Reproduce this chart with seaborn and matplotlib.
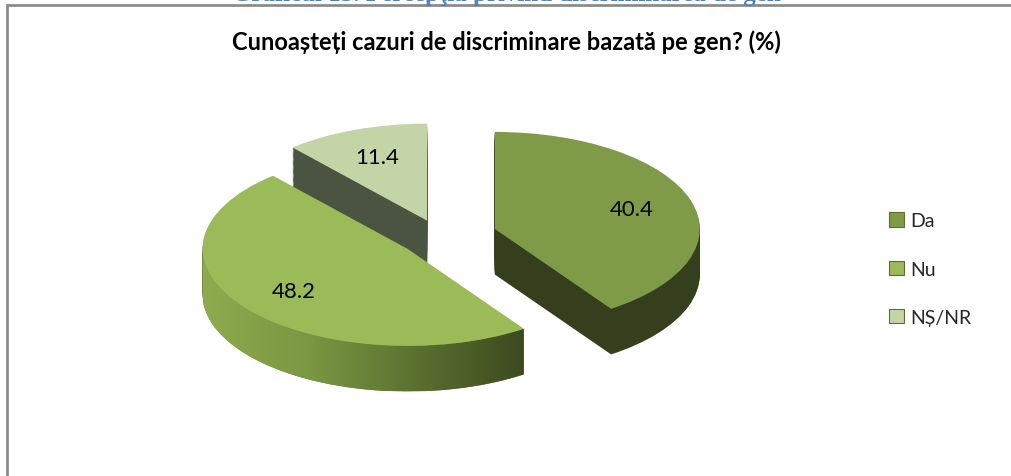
import numpy as np
import matplotlib
matplotlib.use("Agg")
import matplotlib.pyplot as plt
from matplotlib.patches import Patch, Rectangle, Polygon
from matplotlib.colors import LinearSegmentedColormap
import seaborn as sns

# data
labels = ["Da", "Nu", "NȘ/NR"]
values = [40.4, 48.2, 11.4]
top_colors = ["#7f9b48", "#9bbb59", "#c3d4a7"]
side_colors = ["#353f1d", "#6e8a3b", "#4b5440"]
explode = [0.28, 0.2, 0.18]

sns.set_theme(style="white")
plt.rcParams["font.family"] = ["Lato", "DejaVu Sans"]

fig = plt.figure(figsize=(10.12, 4.77), dpi=100, facecolor="white")
ax = fig.add_axes([0, 0, 1, 1])

# fake 3d: stack darker pies below the top face
depth = 0.47
for dy in np.linspace(-depth, 0, 40, endpoint=False):
    ax.pie(values, explode=explode, startangle=90, counterclock=False,
           colors=side_colors, center=(0, dy), wedgeprops=dict(linewidth=0))

wedges, texts, autotexts = ax.pie(values, explode=explode, startangle=90, counterclock=False,
                                  colors=top_colors, autopct="%.1f", pctdistance=0.7,
                                  wedgeprops=dict(linewidth=0),
                                  textprops=dict(fontsize=16, color="black"))
for w in wedges:
    w.set_zorder(3)
for t in autotexts:
    t.set_zorder(4)

# shaded front wall of the "Nu" slice (light on the left, dark on the right)
nu = wedges[1]
cx, cy = nu.center
t1, t2 = nu.theta1, nu.theta2
ang = np.radians(np.linspace(max(t1, -180), t2, 120))
top_arc = np.column_stack([cx + nu.r * np.cos(ang), cy + nu.r * np.sin(ang)])
bot_arc = top_arc[::-1] - [0, depth]
wall = Polygon(np.vstack([top_arc, bot_arc]), closed=True, facecolor="none", edgecolor="none")
ax.add_patch(wall)
grad_cmap = LinearSegmentedColormap.from_list("nu_side", ["#8eab4e", "#7a9742", "#5a7030", "#3c4a20"])
gx = np.linspace(0, 1, 256).reshape(1, -1)
img = ax.imshow(gx, cmap=grad_cmap, aspect="auto", zorder=2,
                extent=(cx - nu.r, cx + nu.r * np.cos(np.radians(t2)), cy - nu.r - depth, cy + 0.2))
img.set_clip_path(wall)

# squash the circle into an ellipse
sx, sy = 205, 97
px, py = 440, 238
ax.set_aspect("auto")
ax.set_xlim(-px / sx, (1012 - px) / sx)
ax.set_ylim(-(477 - py) / sy, py / sy)
ax.axis("off")

# chart frame
fig.patches.append(Rectangle((7 / 1012, -0.2), 1.2, 1.2 - 6 / 477,
                             transform=fig.transFigure, fill=False,
                             edgecolor="#8c8c8c", linewidth=2, clip_on=False))

# caption above the frame, mostly cut off
fig.text(0.5, 1 - 1 / 477, "Graficul 15. Percepţia privind discriminarea de gen",
         ha="center", va="baseline", fontsize=18, fontweight="bold",
         color="#4f81bd", family=["Liberation Serif", "DejaVu Serif"])

fig.text(0.5, 1 - 42 / 477, "Cunoașteți cazuri de discriminare bazată pe gen? (%)",
         ha="center", va="center", fontsize=17, fontweight="bold", color="black")

handles = [Patch(facecolor=c, edgecolor="#5a6e30", linewidth=0.8) for c in top_colors]
fig.legend(handles, labels, loc="center left", bbox_to_anchor=(872 / 1012, 1 - 270 / 477),
           frameon=False, fontsize=14, labelspacing=1.6, handlelength=0.75,
           handleheight=0.75, handletextpad=0.3)

fig.savefig("out.png", dpi=100, facecolor="white")
